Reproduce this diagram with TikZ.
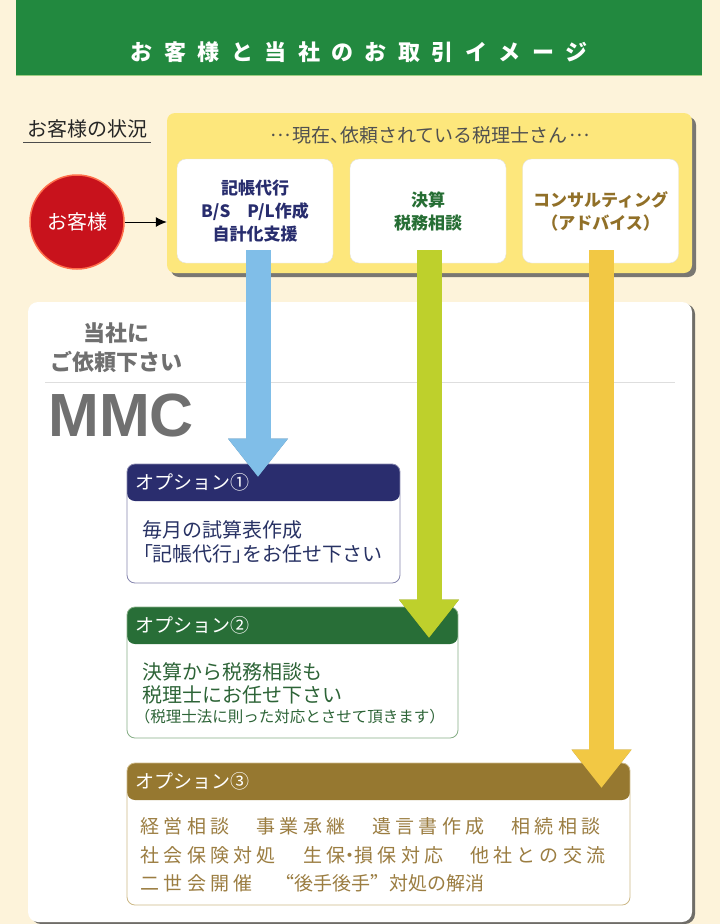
\documentclass[tikz,border=0pt]{standalone}
\usepackage{fontspec}
\setmainfont{Noto Sans CJK JP}
\newfontfamily\mmcfont{Liberation Sans}
\usetikzlibrary{arrows.meta,shadows,calc}

\definecolor{cream}{RGB}{253,243,218}
\definecolor{titlegreen}{RGB}{34,137,63}
\definecolor{barline}{RGB}{160,205,130}
\definecolor{yellowbox}{RGB}{253,231,124}
\definecolor{boxedge}{RGB}{226,226,222}
\definecolor{navytext}{RGB}{40,45,110}
\definecolor{greentext}{RGB}{38,110,52}
\definecolor{goldtext}{RGB}{145,112,40}
\definecolor{labelgray}{RGB}{80,80,80}
\definecolor{mmcgray}{RGB}{112,112,112}
\definecolor{sepgray}{RGB}{222,222,222}
\definecolor{arrblue}{RGB}{128,190,232}
\definecolor{arrgreen}{RGB}{190,208,44}
\definecolor{arrgold}{RGB}{242,200,68}
\definecolor{headnavy}{RGB}{42,45,110}
\definecolor{edgenavy}{RGB}{135,135,175}
\definecolor{headgreen}{RGB}{40,110,55}
\definecolor{edgegreen}{RGB}{135,175,135}
\definecolor{headgold}{RGB}{150,120,48}
\definecolor{edgegold}{RGB}{205,185,135}
\definecolor{bodynavy}{RGB}{40,50,100}
\definecolor{bodygreen}{RGB}{45,100,55}
\definecolor{bodygold}{RGB}{155,125,65}
\definecolor{kyakured}{RGB}{200,18,28}

% proportional / full-width forms for single marks
\newcommand{\hw}[1]{{\addfontfeature{RawFeature=+palt}#1}}
\newcommand{\fw}[1]{{\addfontfeature{RawFeature=+fwid}#1}}
\newcommand{\midell}{\hspace{0.1em}\raisebox{0.3em}{…}\hspace{0.1em}}

\begin{document}
\begin{tikzpicture}[x=1pt, y=-1pt, >=latex,
    svcbox/.style={draw=boxedge, fill=white, rounded corners=9pt, minimum width=156pt,
      minimum height=104pt, align=center, inner sep=0pt,
      font=\fontsize{17}{23}\selectfont\bfseries},
    optbox/.style 2 args={draw=#2, fill=white, rounded corners=8pt, line width=0.8pt,
      path picture={\fill[#1] (path picture bounding box.north west)
        rectangle ([yshift=-37pt]path picture bounding box.north east);}},
    opthead/.style={anchor=west, inner sep=0pt, text=white, font=\fontsize{19}{19}\selectfont},
    optline/.style={anchor=west, inner sep=0pt, font=\fontsize{20}{20}\selectfont},
    bigarrow/.style={line width=25pt, -{Triangle[width=60pt,length=38pt,line width=0pt]}},
  ]
  % ==== DEFINITIONS ====
  \def\headgap{19} % header text below box top
  \def\linegap{24} % body line spacing

  % ==== BACKGROUND ====
  \useasboundingbox (0,0) rectangle (720,924);
  \fill[cream] (0,0) rectangle (720,924);

  % ==== TITLE BAR ====
  \node[fill=titlegreen, minimum width=686pt, minimum height=75pt, inner sep=0pt] (bar) at (359,37.5) {};
  \draw[barline, line width=1pt] (bar.south west) -- (bar.south east);
  \node[text=white, font=\fontsize{22}{22}\selectfont\bfseries\addfontfeature{LetterSpace=52}] (title) at (359,52) {お客様と当社のお取引イメージ};

  % ==== CUSTOMER ====
  \node[anchor=west, inner sep=4pt, text=black!85, font=\fontsize{20}{20}\selectfont] (situ) at (23,129) {お客様の状況};
  \draw[black!70] (situ.south west) -- (situ.south east);
  \node[circle, fill=kyakured, draw=red!60!orange!70!white, line width=1.5pt, minimum size=94pt,
    text=white, font=\fontsize{20}{20}\selectfont] (kyaku) at (77,222) {お客様};

  % ==== CURRENT TAX ACCOUNTANT ====
  \node[fill=yellowbox, rounded corners=8pt, minimum width=525pt, minimum height=160pt,
    drop shadow={shadow xshift=4pt, shadow yshift=-4pt, fill=black!65, opacity=0.8}] (now) at (429.5,193) {};
  \node[text=labelgray, font=\fontsize{19}{19}\selectfont] (nowlabel) at (429.5,135) {\midell 現在\hw{、}依頼されている税理士さん\midell};
  \node[svcbox, text=navytext] (svc1) at (255,211) {記帳代行\\B/S　P/L作成\\自計化支援};
  \node[svcbox, text=greentext] (svc2) at (428,211) {決算\\税務相談};
  \node[svcbox, text=goldtext] (svc3) at (600.5,211) {コンサルティング\\（アドバイス）};
  \draw[-{Latex[length=11pt,width=10pt]}, line width=1pt] (kyaku) -- (kyaku -| now.west);

  % ==== MMC PANEL ====
  \node[fill=white, rounded corners=10pt, minimum width=664pt, minimum height=620pt,
    drop shadow={shadow xshift=3pt, shadow yshift=-2pt, fill=black!70, opacity=0.8}] (panel) at (360,612) {};
  \node[text=mmcgray, align=center, font=\fontsize{22}{29}\selectfont\bfseries] (ask) at (116,347.5) {当社に\\ご依頼下さい};
  \draw[sepgray, line width=1pt] (45,382) -- (675,382);
  \node[anchor=west, inner sep=0pt, text=mmcgray, font=\mmcfont\bfseries\fontsize{61}{61}\selectfont] (mmc) at (48,415.5) {MMC};

  % ==== OPTION 1 ====
  \node[optbox={headnavy}{edgenavy}, minimum width=273pt, minimum height=119pt] (opt1) at (263.5,523.5) {};
  \node[opthead] (opt1head) at ($(opt1.north west)+(9,\headgap)$) {オプション①};
  \node[optline, text=bodynavy] (opt1a) at ($(opt1.north west)+(16,66)$) {毎月の試算表作成};
  \node[optline, text=bodynavy] (opt1b) at ($(opt1a.west)+(0,\linegap)$) {\hw{「}記帳代行\hw{」}をお任せ下さい};

  % ==== OPTION 2 ====
  \node[optbox={headgreen}{edgegreen}, minimum width=331pt, minimum height=131pt] (opt2) at (292.5,672.5) {};
  \node[opthead] (opt2head) at ($(opt2.north west)+(9,\headgap)$) {オプション②};
  \node[optline, text=bodygreen] (opt2a) at ($(opt2.north west)+(16,65)$) {決算から税務相談も};
  \node[optline, text=bodygreen] (opt2b) at ($(opt2a.west)+(0,23)$) {税理士にお任せ下さい};
  \node[optline, text=bodygreen, font=\fontsize{15.5}{15.5}\selectfont] (opt2c) at ($(opt2b.west)+(-8,22)$) {（税理士法に則った対応とさせて頂きます）};

  % ==== OPTION 3 ====
  \node[optbox={headgold}{edgegold}, minimum width=503pt, minimum height=142pt] (opt3) at (378.5,834) {};
  \node[opthead] (opt3head) at ($(opt3.north west)+(9,\headgap)$) {オプション③};
  \begin{scope}[every node/.style={optline, text=bodygold, font=\fontsize{19}{19}\selectfont\addfontfeature{LetterSpace=22}}]
    \node (opt3a) at ($(opt3.north west)+(14,64)$) {経営相談　事業承継　遺言書作成　相続相談};
    \node (opt3b) at ($(opt3a.west)+(0,29)$) {社会保険対処　生保\hw{・}損保対応　他社との交流};
    \node (opt3c) at ($(opt3b.west)+(0,28)$) {二世会開催　{\addfontfeature{LetterSpace=0}\fw{“}後手後手\fw{”}対処の解消}};
  \end{scope}

  % ==== ARROWS ====
  \draw[bigarrow, arrblue!70!black, xshift=1.5pt] ($(svc1.south)+(3,-13)$) -- ($(svc1.south |- opt1.north)+(3,13)$);
  \draw[bigarrow, arrblue] ($(svc1.south)+(3,-13)$) -- ($(svc1.south |- opt1.north)+(3,13)$);
  \draw[bigarrow, arrgreen!70!black, xshift=1.5pt] ($(svc2.south)+(1,-13)$) -- ($(svc2.south |- opt2.north)+(1,31)$);
  \draw[bigarrow, arrgreen] ($(svc2.south)+(1,-13)$) -- ($(svc2.south |- opt2.north)+(1,31)$);
  \draw[bigarrow, arrgold!70!black, xshift=1.5pt] ($(svc3.south)+(1,-13)$) -- ($(svc3.south |- opt3.north)+(1,25)$);
  \draw[bigarrow, arrgold] ($(svc3.south)+(1,-13)$) -- ($(svc3.south |- opt3.north)+(1,25)$);

\end{tikzpicture}
\end{document}
